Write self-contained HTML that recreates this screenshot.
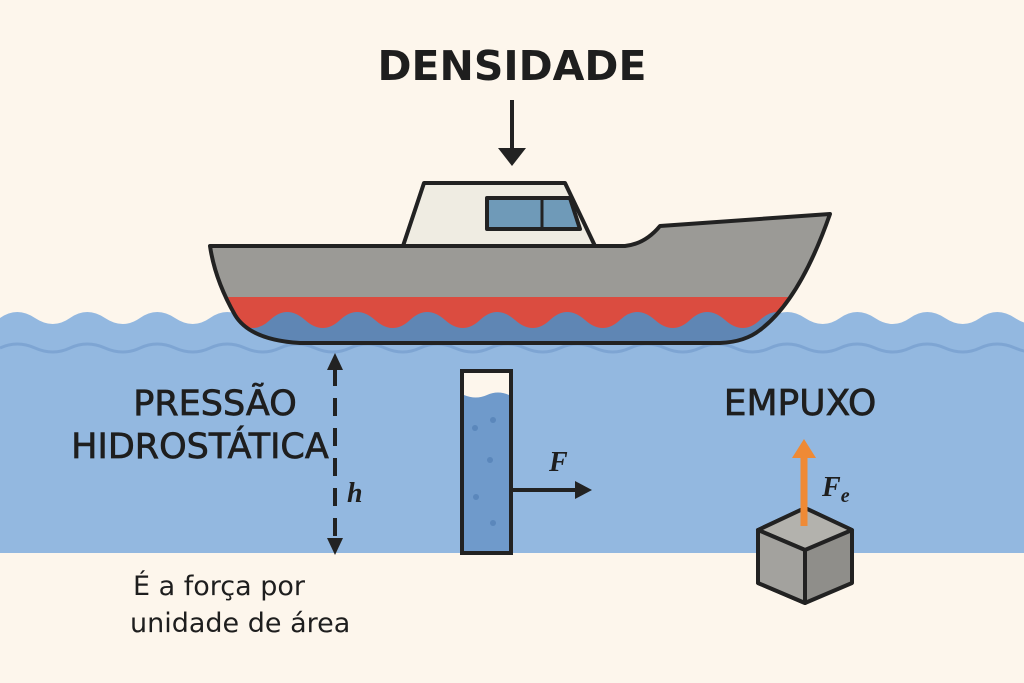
<!DOCTYPE html>
<html><head><meta charset="utf-8"><style>
html,body{margin:0;padding:0;background:#fdf6ec;}
svg{display:block}
text{font-family:"DejaVu Sans","Liberation Sans",sans-serif;fill:#1e1e1e}
.lbl{stroke:#1e1e1e;stroke-width:0.7}
.ser{font-family:"Liberation Serif","DejaVu Serif",serif;font-style:italic;font-weight:bold}
</style></head><body>
<svg width="1024" height="683" viewBox="0 0 1024 683" xmlns="http://www.w3.org/2000/svg">
<rect width="1024" height="683" fill="#fdf6ec"/>
<path d="M0,318 q17,-12 35,0 t35,0 t35,0 t35,0 t35,0 t35,0 t35,0 t35,0 t35,0 t35,0 t35,0 t35,0 t35,0 t35,0 t35,0 t35,0 t35,0 t35,0 t35,0 t35,0 t35,0 t35,0 t35,0 t35,0 t35,0 t35,0 t35,0 t35,0 t35,0 t35,0 L1050,553 L0,553 Z" fill="#93b8e0"/>
<path d="M0,348 q17,-8 35,0 t35,0 t35,0 t35,0 t35,0 t35,0 t35,0 t35,0 t35,0 t35,0 t35,0 t35,0 t35,0 t35,0 t35,0 t35,0 t35,0 t35,0 t35,0 t35,0 t35,0 t35,0 t35,0 t35,0 t35,0 t35,0 t35,0 t35,0 t35,0 t35,0" fill="none" stroke="#7ea5d3" stroke-width="3"/>
<defs><clipPath id="hull"><path d="M210,246 L625,246 Q645,244 660,226 L830,214 Q800,300 760,330 Q745,342 720,343 L300,343 Q250,340 235,315 Q215,280 210,246 Z"/></clipPath></defs>
<path d="M403,246 L424,183 L565,183 L595,246 Z" fill="#efece2" stroke="#222" stroke-width="4" stroke-linejoin="round"/>
<path d="M487,198 L570,198 L580,229 L487,229 Z" fill="#6f9ab8" stroke="#222" stroke-width="4" stroke-linejoin="round"/>
<line x1="542" y1="198" x2="542" y2="229" stroke="#222" stroke-width="3"/>
<g clip-path="url(#hull)">
<rect x="200" y="200" width="650" height="150" fill="#9b9a96"/>
<rect x="200" y="297" width="650" height="60" fill="#db4c40"/>
<path d="M200,320 q17,-16 35,0 t35,0 t35,0 t35,0 t35,0 t35,0 t35,0 t35,0 t35,0 t35,0 t35,0 t35,0 t35,0 t35,0 t35,0 t35,0 t35,0 t35,0 t35,0 L850,350 L200,350 Z" fill="#5f86b4"/>
</g>
<path d="M210,246 L625,246 Q645,244 660,226 L830,214 Q800,300 760,330 Q745,342 720,343 L300,343 Q250,340 235,315 Q215,280 210,246 Z" fill="none" stroke="#222" stroke-width="4" stroke-linejoin="round"/>
<text x="512" y="80" text-anchor="middle" font-size="41" font-weight="bold">DENSIDADE</text>
<line x1="512" y1="100" x2="512" y2="150" stroke="#222" stroke-width="4"/>
<path d="M498,148 L526,148 L512,166 Z" fill="#222"/>
<line x1="335" y1="368" x2="335" y2="540" stroke="#222" stroke-width="4" stroke-dasharray="18,12"/>
<path d="M327,370 L343,370 L335,353 Z" fill="#222"/>
<path d="M327,538 L343,538 L335,555 Z" fill="#222"/>
<text class="lbl" x="215" y="415" text-anchor="middle" font-size="35">PRESSÃO</text>
<text class="lbl" x="200" y="458" text-anchor="middle" font-size="35">HIDROSTÁTICA</text>
<text class="ser" x="347" y="502" font-size="28">h</text>
<text x="133" y="595" font-size="27">É a força por</text>
<text x="130" y="632" font-size="27">unidade de área</text>
<rect x="462" y="371" width="49" height="182" fill="#fdf6ec" stroke="#222" stroke-width="4"/>
<path d="M464,395 q12,5 23,0 t22,0 L509,551 L464,551 Z" fill="#6f9acb"/>
<circle cx="475" cy="428" r="3" fill="#5b87bb"/><circle cx="493" cy="420" r="3" fill="#5b87bb"/><circle cx="490" cy="460" r="3" fill="#5b87bb"/><circle cx="476" cy="497" r="3" fill="#5b87bb"/><circle cx="493" cy="523" r="3" fill="#5b87bb"/>
<line x1="511" y1="490" x2="578" y2="490" stroke="#222" stroke-width="4"/>
<path d="M575,481 L592,490 L575,499 Z" fill="#222"/>
<text class="ser" x="549" y="471" font-size="28">F</text>
<text class="lbl" x="800" y="415" text-anchor="middle" font-size="36">EMPUXO</text>
<path d="M758,530 L805,508 L852,530 L852,583 L805,603 L758,583 Z" fill="#8f8e8a" stroke="#222" stroke-width="4" stroke-linejoin="round"/>
<path d="M758,530 L805,550 L852,530 L805,508 Z" fill="#b3b2ad" stroke="#222" stroke-width="4" stroke-linejoin="round"/>
<path d="M758,530 L805,550 L805,603 L758,583 Z" fill="#a3a29e" stroke="#222" stroke-width="4" stroke-linejoin="round"/>
<line x1="804" y1="526" x2="804" y2="455" stroke="#ef8a35" stroke-width="7"/>
<path d="M792,458 L816,458 L804,439 Z" fill="#ef8a35"/>
<text class="ser" x="822" y="496" font-size="28">F<tspan font-size="20" dy="6">e</tspan></text>
</svg>
</body></html>
